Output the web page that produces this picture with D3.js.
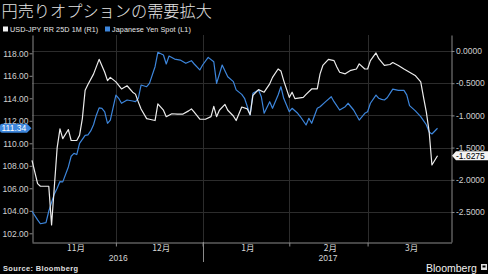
<!DOCTYPE html>
<html lang="ja">
<head>
<meta charset="utf-8">
<title>円売りオプションの需要拡大</title>
<script src="https://d3js.org/d3.v7.min.js"></script>
<style type="text/css">
    html, body {
        margin: 0;
        padding: 0;
        background: #000;
    }
    svg {
        display: block;
        background: #000;
    }
    text {
        font-family: "Liberation Sans", Arial, sans-serif;
        fill: #d6d6d6;
    }
    text.title {
        font-family: "Noto Sans CJK JP", sans-serif;
        font-size: 16.2px;
        font-weight: 300;
        fill: #e4e4e4;
    }
    text.legend {
        font-size: 7.2px;
        letter-spacing: 0.1px;
        fill: #e8e8e8;
    }
    .axis text {
        font-size: 8.5px;
        fill: #d0d0d0;
    }
    .axis path, .axis line {
        stroke: #8a8a8a;
    }
    .grid line {
        stroke: #2c2c2c;
        stroke-width: 1;
    }
    text.month {
        font-family: "Noto Sans CJK JP", sans-serif;
        font-size: 8.5px;
        text-anchor: middle;
    }
    text.year {
        font-size: 8.5px;
        text-anchor: middle;
    }
</style>
</head>
<body>
<script>

// chart data
const titleText = "円売りオプションの需要拡大";
const rrName = "USD-JPY RR 25D 1M (R1)";
const spotName = "Japanese Yen Spot (L1)";

// USD-JPY 25 delta 1M risk reversal (right axis)
const rrDates = [
    "2016-11-01", "2016-11-03", "2016-11-04", "2016-11-07", "2016-11-08", "2016-11-10",
    "2016-11-11", "2016-11-12", "2016-11-14", "2016-11-15", "2016-11-17", "2016-11-18",
    "2016-11-19", "2016-11-20", "2016-11-21", "2016-11-23", "2016-11-25", "2016-11-27",
    "2016-11-28", "2016-11-29", "2016-12-01", "2016-12-03", "2016-12-05", "2016-12-07",
    "2016-12-08", "2016-12-09", "2016-12-10", "2016-12-12", "2016-12-13", "2016-12-15",
    "2016-12-16", "2016-12-18", "2016-12-19", "2016-12-21", "2016-12-23", "2016-12-25",
    "2016-12-27", "2016-12-28", "2016-12-29", "2016-12-31", "2017-01-02", "2017-01-04",
    "2017-01-05", "2017-01-06", "2017-01-07", "2017-01-09", "2017-01-10", "2017-01-12",
    "2017-01-13", "2017-01-15", "2017-01-17", "2017-01-18", "2017-01-19", "2017-01-21",
    "2017-01-23", "2017-01-25", "2017-01-26", "2017-01-28", "2017-01-29", "2017-01-30",
    "2017-02-01", "2017-02-02", "2017-02-03", "2017-02-06", "2017-02-07", "2017-02-09",
    "2017-02-11", "2017-02-12", "2017-02-13", "2017-02-15", "2017-02-17", "2017-02-18",
    "2017-02-19", "2017-02-21", "2017-02-23", "2017-02-25", "2017-02-26", "2017-02-28",
    "2017-03-01", "2017-03-02", "2017-03-04", "2017-03-05", "2017-03-07", "2017-03-09",
    "2017-03-10", "2017-03-12", "2017-03-14", "2017-03-16", "2017-03-18", "2017-03-20",
    "2017-03-21", "2017-03-22", "2017-03-23", "2017-03-24", "2017-03-26"
];
const rrValues = [
    -1.70, -2.06, -2.10, -2.10, -2.70, -1.50,
    -1.21, -1.36, -1.22, -1.39, -1.39, -1.31,
    -1.05, -0.61, -0.52, -0.36, -0.13, -0.33,
    -0.46, -0.41, -0.48, -0.59, -0.54, -0.64,
    -0.67, -0.79, -0.90, -1.05, -1.06, -1.08,
    -0.82, -0.92, -1.02, -0.975, -0.98, -0.98,
    -0.93, -0.90, -0.95, -1.06, -1.06, -1.02,
    -0.86, -1.02, -0.92, -0.83, -0.92, -1.01,
    -1.08, -0.87, -0.90, -0.99, -0.69, -0.60,
    -0.64, -0.51, -0.41, -0.28, -0.31, -0.46,
    -0.72, -0.64, -0.74, -0.72, -0.675, -0.59,
    -0.59, -0.355, -0.225, -0.13, -0.15, -0.25,
    -0.33, -0.355, -0.30, -0.28, -0.20, -0.28,
    -0.28, -0.15, -0.03, -0.12, -0.225, -0.21,
    -0.18, -0.225, -0.28, -0.33, -0.38, -0.48,
    -0.72, -0.95, -1.25, -1.77, -1.6275
];

// Japanese yen spot (left axis)
const spotDates = [
    "2016-11-01", "2016-11-03", "2016-11-04", "2016-11-06", "2016-11-07", "2016-11-08",
    "2016-11-09", "2016-11-10", "2016-11-11", "2016-11-12", "2016-11-14", "2016-11-15",
    "2016-11-16", "2016-11-17", "2016-11-18", "2016-11-20", "2016-11-21", "2016-11-22",
    "2016-11-23", "2016-11-24", "2016-11-25", "2016-11-26", "2016-11-27", "2016-11-28",
    "2016-11-29", "2016-12-01", "2016-12-02", "2016-12-03", "2016-12-05", "2016-12-07",
    "2016-12-08", "2016-12-09", "2016-12-10", "2016-12-12", "2016-12-13", "2016-12-15",
    "2016-12-16", "2016-12-18", "2016-12-19", "2016-12-20", "2016-12-22", "2016-12-24",
    "2016-12-26", "2016-12-28", "2016-12-29", "2016-12-31", "2017-01-01", "2017-01-03",
    "2017-01-05", "2017-01-06", "2017-01-08", "2017-01-10", "2017-01-12", "2017-01-13",
    "2017-01-15", "2017-01-16", "2017-01-18", "2017-01-19", "2017-01-21", "2017-01-22",
    "2017-01-23", "2017-01-25", "2017-01-26", "2017-01-28", "2017-01-29", "2017-01-30",
    "2017-02-01", "2017-02-02", "2017-02-04", "2017-02-05", "2017-02-07", "2017-02-08",
    "2017-02-09", "2017-02-11", "2017-02-12", "2017-02-14", "2017-02-16", "2017-02-17",
    "2017-02-19", "2017-02-21", "2017-02-22", "2017-02-24", "2017-02-26", "2017-02-28",
    "2017-03-01", "2017-03-02", "2017-03-04", "2017-03-05", "2017-03-06", "2017-03-07",
    "2017-03-08", "2017-03-10", "2017-03-12", "2017-03-14", "2017-03-15", "2017-03-16",
    "2017-03-18", "2017-03-20", "2017-03-22", "2017-03-23", "2017-03-24", "2017-03-26"
];
const spotValues = [
    103.96, 103.20, 102.85, 102.95, 103.96, 104.75,
    105.50, 106.00, 106.60, 106.57, 107.90, 108.85,
    109.10, 109.00, 110.00, 110.70, 110.75, 111.10,
    111.65, 112.50, 113.15, 113.10, 112.80, 111.78,
    112.07, 114.29, 114.00, 113.56, 113.85, 113.76,
    113.70, 114.00, 115.18, 115.03, 115.33, 116.81,
    118.09, 117.85, 117.05, 117.76, 117.49, 117.40,
    117.11, 117.34, 117.05, 116.52, 116.96, 117.64,
    117.25, 115.33, 116.96, 115.92, 115.48, 114.75,
    114.35, 114.00, 112.52, 114.44, 114.74, 114.14,
    112.67, 113.70, 113.11, 114.29, 115.03, 114.00,
    112.81, 113.11, 112.67, 112.36, 111.63, 112.22,
    111.78, 113.11, 113.25, 113.70, 114.14, 113.70,
    112.96, 113.25, 113.56, 112.96, 112.07, 112.67,
    112.81, 113.56, 114.29, 114.00, 113.90, 113.85,
    114.05, 114.82, 114.70, 114.70, 114.30, 113.35,
    112.90, 112.37, 111.65, 111.00, 110.83, 111.34
];

const leftTicks = [102, 104, 106, 108, 110, 112, 114, 116, 118];
const rightTicks = [0, -0.5, -1, -1.5, -2, -2.5];
const monthStarts = ["2016-11-01", "2016-12-01", "2017-01-01", "2017-02-01", "2017-03-01", "2017-04-01"];
const monthLabels = ["11月", "12月", "1月", "2月", "3月"];
const yearStarts = ["2016-11-01", "2017-01-01", "2017-04-01"];
const yearLabels = ["2016", "2017"];
const lastSpot = "111.34";
const lastRR = "-1.6275";

// global setting for svg
let realW = 488,
    realH = 274;

let plot = {
    left: 32, right: 451.5,
    top: 35, bottom: 242
};

let parseDate = d3.timeParse("%Y-%m-%d");

let xScale = d3.scaleTime()
    .domain([parseDate("2016-11-01"), parseDate("2017-03-31")])
    .range([plot.left, plot.right]);

// left: yen spot, right: risk reversal
let yLeft = d3.scaleLinear()
    .domain([101.227, 119.627])
    .range([plot.bottom, plot.top]);

let yRight = d3.scaleLinear()
    .domain([-2.966, 0.248])
    .range([plot.bottom, plot.top]);

let svg = d3.select("body")
    .append("svg")
    .attr("width", realW)
    .attr("height", realH);

// title + legend
svg.append("text")
    .attr("class", "title")
    .attr("x", 1.5)
    .attr("y", 17)
    .text(titleText);

svg.append("rect")
    .attr("x", 3).attr("y", 26.5)
    .attr("width", 5).attr("height", 5)
    .attr("fill", "#f2f2f2");
svg.append("text")
    .attr("class", "legend")
    .attr("x", 10).attr("y", 31.5)
    .text(rrName);

svg.append("rect")
    .attr("x", 105).attr("y", 26.5)
    .attr("width", 5).attr("height", 5)
    .attr("fill", "#3d86dc");
svg.append("text")
    .attr("class", "legend")
    .attr("x", 112).attr("y", 31.5)
    .text(spotName);

// grid
let grid = svg.append("g").attr("class", "grid");

grid.selectAll("line.h")
    .data(rightTicks)
    .enter()
    .append("line")
    .attr("class", "h")
    .attr("x1", plot.left)
    .attr("x2", plot.right)
    .attr("y1", d => Math.round(yRight(d)) + 0.5)
    .attr("y2", d => Math.round(yRight(d)) + 0.5);

grid.selectAll("line.v")
    .data(monthStarts.slice(1, 5))
    .enter()
    .append("line")
    .attr("class", "v")
    .attr("x1", d => Math.round(xScale(parseDate(d))) + 0.5)
    .attr("x2", d => Math.round(xScale(parseDate(d))) + 0.5)
    .attr("y1", plot.top)
    .attr("y2", plot.bottom);

// axes
let leftAxis = svg.append("g")
    .attr("class", "axis")
    .attr("transform", "translate(" + (plot.left + 0.5) + ",0)")
    .call(d3.axisLeft(yLeft)
        .tickValues(leftTicks)
        .tickFormat(d => d.toFixed(2))
        .tickSize(3)
        .tickSizeOuter(0)
        .tickPadding(1));

let rightAxis = svg.append("g")
    .attr("class", "axis")
    .attr("transform", "translate(" + plot.right + ",0)")
    .call(d3.axisRight(yRight)
        .tickValues(rightTicks)
        .tickFormat(d => d.toFixed(4))
        .tickSize(3)
        .tickSizeOuter(0)
        .tickPadding(1.5));

let bottomAxis = svg.append("g")
    .attr("class", "axis")
    .attr("transform", "translate(0," + (plot.bottom + 0.5) + ")")
    .call(d3.axisBottom(xScale)
        .tickValues(monthStarts.slice(1, 5).map(parseDate))
        .tickFormat("")
        .tickSize(4)
        .tickSizeOuter(0));

// year separator
svg.append("line")
    .attr("x1", Math.round(xScale(parseDate(yearStarts[1]))) + 0.5)
    .attr("x2", Math.round(xScale(parseDate(yearStarts[1]))) + 0.5)
    .attr("y1", plot.bottom)
    .attr("y2", 262)
    .attr("stroke", "#8a8a8a");

// month labels, centred on the visible part of each month
let x0 = xScale.range()[0], x1 = xScale.range()[1];
svg.selectAll("text.month")
    .data(monthLabels)
    .enter()
    .append("text")
    .attr("class", "month")
    .attr("x", (d, i) => {
        let a = Math.max(x0, xScale(parseDate(monthStarts[i])));
        let b = Math.min(x1, xScale(parseDate(monthStarts[i + 1])));
        return (a + b) / 2 + 2;
    })
    .attr("y", 251)
    .text(d => d);

svg.selectAll("text.year")
    .data(yearLabels)
    .enter()
    .append("text")
    .attr("class", "year")
    .attr("x", (d, i) => {
        let a = Math.max(x0, xScale(parseDate(yearStarts[i])));
        let b = Math.min(x1, xScale(parseDate(yearStarts[i + 1])));
        return (a + b) / 2 + 1;
    })
    .attr("y", 260.5)
    .text(d => d);

// lines
let spotLine = d3.line()
    .x((d, i) => xScale(parseDate(spotDates[i])))
    .y(d => yLeft(d));

let rrLine = d3.line()
    .x((d, i) => xScale(parseDate(rrDates[i])))
    .y(d => yRight(d));

svg.append("path")
    .datum(spotValues)
    .attr("fill", "none")
    .attr("stroke", "#3d86dc")
    .attr("stroke-width", 1.2)
    .attr("stroke-linejoin", "round")
    .attr("d", spotLine);

svg.append("path")
    .datum(rrValues)
    .attr("fill", "none")
    .attr("stroke", "#ececec")
    .attr("stroke-width", 1.2)
    .attr("stroke-linejoin", "round")
    .attr("d", rrLine);

// last value tags
let ySpot = yLeft(+lastSpot);
svg.append("path")
    .attr("d", "M2," + (ySpot - 4.5) + " H27 L31.5," + ySpot + " L27," + (ySpot + 4.5) +
        " H2 Q0," + (ySpot + 4.5) + " 0," + (ySpot + 2.5) + " V" + (ySpot - 2.5) +
        " Q0," + (ySpot - 4.5) + " 2," + (ySpot - 4.5) + " Z")
    .attr("fill", "#3d86dc");
svg.append("text")
    .attr("x", 1.5)
    .attr("y", ySpot + 3)
    .style("font-size", "8.5px")
    .style("fill", "#fff")
    .text(lastSpot);

let yRR = yRight(+lastRR);
svg.append("path")
    .attr("d", "M452," + yRR + " L456," + (yRR - 4.5) + " H488 V" + (yRR + 4.5) + " H456 Z")
    .attr("fill", "#f4f4f4");
svg.append("text")
    .attr("x", 456)
    .attr("y", yRR + 3)
    .style("font-size", "8.5px")
    .style("fill", "#000")
    .text(lastRR);

// footer
svg.append("text")
    .attr("x", 3)
    .attr("y", 271)
    .style("font-size", "7.4px")
    .style("font-weight", "bold")
    .style("letter-spacing", "0.4px")
    .style("fill", "#e0e0e0")
    .text("Source: Bloomberg");

svg.append("text")
    .attr("x", 426)
    .attr("y", 272)
    .style("font-size", "10.5px")
    .style("fill", "#f0f0f0")
    .text("Bloomberg");

svg.append("rect")
    .attr("x", 481).attr("y", 264)
    .attr("width", 6).attr("height", 6)
    .attr("fill", "#e0e0e0");
svg.append("rect")
    .attr("x", 482.5).attr("y", 265.5)
    .attr("width", 3).attr("height", 2)
    .attr("fill", "#000");

</script>
</body>
</html>
